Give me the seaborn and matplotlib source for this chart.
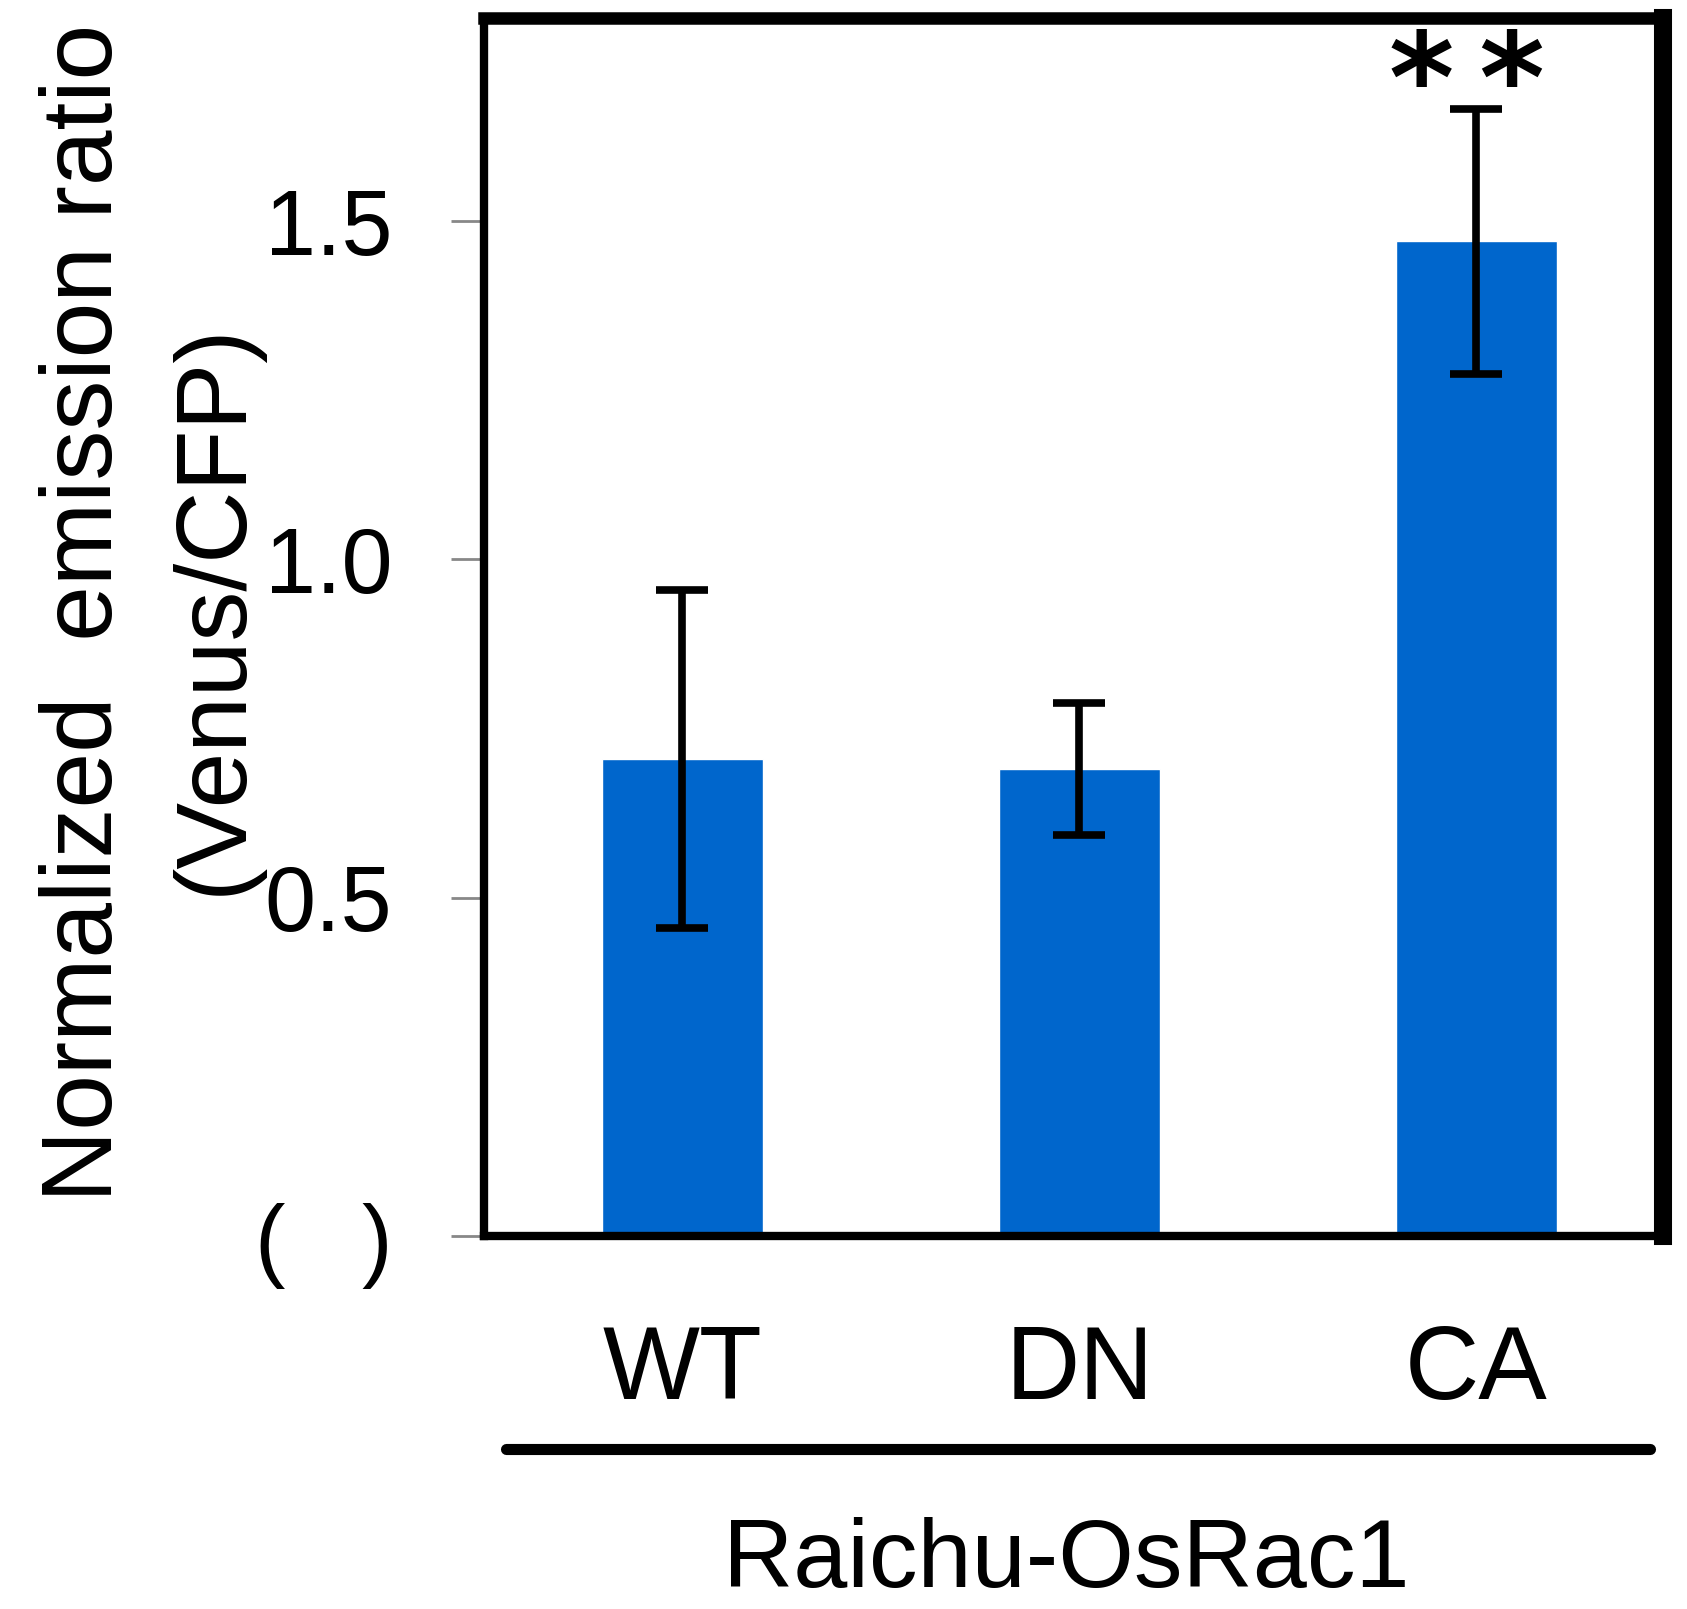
import matplotlib.pyplot as plt
import matplotlib.lines as mlines
import pandas as pd
import seaborn as sns

# values
constructs = ["WT", "DN", "CA"]
ratios = [0.705, 0.69, 1.47]
errors = [0.25, 0.097, 0.196]
yticks = [0, 0.5, 1.0, 1.5]
ytick_labels = ["(   )", "0.5", "1.0", "1.5"]
group_label = "Raichu-OsRac1"
ylabel_lines = ["Normalized  emission ratio", "(Venus/CFP)"]
signif = "*\u2009*"

df = pd.DataFrame({"Construct": constructs, "Ratio": ratios})

sns.set_style("white")
plt.rcParams["font.family"] = ["Liberation Sans", "DejaVu Sans"]
plt.rcParams["text.color"] = "black"

fig = plt.figure(figsize=(16.87, 16.09), dpi=100)
ax = fig.add_axes([0.2869, 0.2318, 0.6989, 0.757])

sns.barplot(x="Construct", y="Ratio", data=df, order=constructs, color="#0066CC",
            width=0.405, saturation=1, errorbar=None, ax=ax)
ax.errorbar(range(len(constructs)), ratios, yerr=errors, fmt="none", ecolor="black",
            elinewidth=5.5, capsize=19, capthick=5.5, zorder=5)

ax.set_xlim(-0.5, 2.47)
ax.set_ylim(0, 1.8)
ax.set_xlabel("")
ax.set_ylabel("")

# category labels in the middle, tick marks between categories (Excel style)
ax.set_xticks(range(len(constructs)))
ax.set_xticklabels(constructs, fontsize=74)
ax.tick_params(axis="x", which="major", length=0, pad=63, labelcolor="black")
ax.set_xticks([-0.5, 0.5, 1.5], minor=True)
ax.tick_params(axis="x", which="minor", length=24, width=2, color="#888888", direction="out")

ax.set_yticks(yticks)
ax.set_yticklabels(ytick_labels, fontsize=66)
ax.tick_params(axis="y", length=24, width=2, color="#888888", direction="out", pad=42,
               left=True, labelcolor="black")

for side, lw in [("left", 6), ("bottom", 6), ("top", 9), ("right", 13)]:
    ax.spines[side].set_visible(True)
    ax.spines[side].set_color("black")
    ax.spines[side].set_linewidth(lw)

# significance mark over CA
ax.text(2 - 0.025, ratios[2] + errors[2] - 0.02, signif, ha="center", va="baseline",
        fontsize=90, fontweight="bold", family="DejaVu Sans", zorder=6)

fig.text(0.051, 0.619, ylabel_lines[0], rotation=90, ha="center", va="center", fontsize=72)
fig.text(0.1274, 0.622, ylabel_lines[1], rotation=90, ha="center", va="center", fontsize=72)

fig.add_artist(mlines.Line2D([0.300, 0.978], [0.0994, 0.0994], color="black", lw=8,
                             transform=fig.transFigure))
fig.text(0.632, 0.001, group_label, ha="center", va="bottom", fontsize=70)

fig.savefig("out.png", dpi=100)
